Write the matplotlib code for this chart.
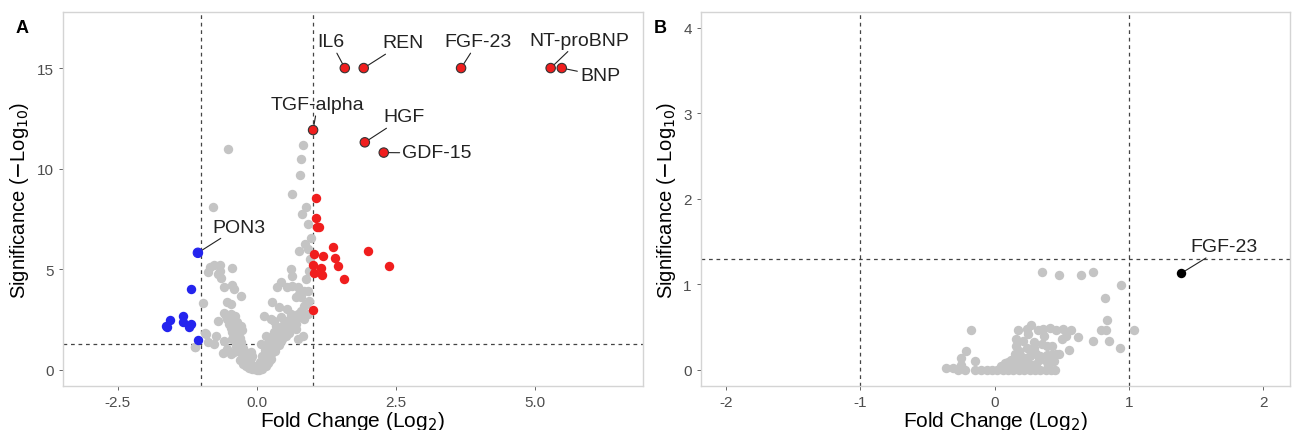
import matplotlib
matplotlib.use("Agg")
import matplotlib.pyplot as plt

plt.rcParams['font.family'] = ['Liberation Sans', 'DejaVu Sans']
plt.rcParams['axes.unicode_minus'] = False

# ---- panel A: labelled (significant) proteins ----
lab_a_names = ['IL6', 'REN', 'FGF-23', 'NT-proBNP', 'BNP', 'TGF-alpha', 'HGF', 'GDF-15', 'PON3']
lab_a_x = [1.58, 1.92, 3.67, 5.28, 5.48, 1.01, 1.94, 2.28, -1.06]
lab_a_y = [15.0, 15.0, 15.0, 15.0, 15.0, 11.92, 11.31, 10.80, 5.82]
lab_a_color = ['red'] * 8 + ['blue']
lab_a_tx = [1.33, 2.63, 3.97, 5.80, 6.17, 1.09, 2.64, 3.24, -0.33]
lab_a_ty = [16.30, 16.25, 16.30, 16.38, 14.61, 13.18, 12.57, 10.78, 7.10]

# up-regulated (red) without label
up_x = [1.07, 1.06, 1.08, 1.12, 1.36, 2.00, 1.03, 1.19, 1.41, 1.46, 2.38, 1.00, 1.15, 1.03, 1.17, 1.56, 1.00]
up_y = [8.56, 7.56, 7.11, 7.08, 6.13, 5.89, 5.77, 5.64, 5.57, 5.17, 5.17, 5.22, 5.09, 4.83, 4.73, 4.51, 2.98]

# down-regulated (blue) without label
down_x = [-1.19, -1.56, -1.62, -1.64, -1.33, -1.33, -1.18, -1.22, -1.05]
down_y = [4.01, 2.50, 2.12, 2.20, 2.70, 2.37, 2.29, 2.12, 1.48]

# non significant (grey)
ns_a_x = [-0.52, 0.83, 0.79, 0.78, 0.63, -0.78, 0.88, 0.81, 0.91, 0.97, 0.87, 0.75, 0.91,
          -0.84, -0.77, -0.66, -0.66, -0.88, -0.70, -0.65, -0.45,
          -0.60, -0.44, -0.41, -0.29, -0.53, -0.47, -0.97, -0.93, -1.11,
          -0.59, -0.56, -0.47, -0.44, -0.38, -0.41, -0.29, -0.26,
          -0.70, -0.73, -0.91, -0.88, -1.12,
          -0.77, -0.61, -0.53, -0.47, -0.44, -0.59,
          -0.35, -0.29, -0.26, -0.23, -0.17, -0.11, -0.05, 0.04, 0.10, 0.16, 0.22, 0.25, 0.31,
          0.37, 0.43, 0.49, 0.55, 0.61,
          0.61, 0.64, 0.43, 0.37, 0.55, 0.64, 0.73, 0.76, 0.85, 0.70, 0.79, 0.88, 0.94,
          0.28, 0.40, 0.55, 0.61, 0.73, 0.79, 0.88, 0.94,
          0.13, 0.25, 0.31, 0.43, 0.49, 0.61, 0.67, 0.76, 0.85, 0.91,
          0.70, 0.73, 0.55, 0.43, 0.31, 0.16, 0.07, 0.22,
          -0.11, -0.08, -0.14,
          -0.40, -0.35, -0.33, -0.30, -0.28, -0.25, -0.22, -0.20, -0.18, -0.15, -0.12, -0.08,
          -0.05, -0.02, 0.00, 0.02, 0.05, 0.08, 0.12, 0.15, 0.18, 0.20, 0.23, 0.26, 0.28, 0.30,
          0.33, 0.35, 0.38, 0.40, 0.42, 0.45, 0.47, 0.50, 0.52, 0.55, 0.58, 0.60, 0.62, 0.65,
          0.68, 0.70, 0.35, 0.30, 0.25, 0.20, 0.15, 0.10, -0.30, -0.35, -0.40, -0.50, -0.45,
          -0.38, -0.42, -0.30, -0.25, -0.10, 0.05, 0.12, 0.96, 0.92, 0.85, 0.82,
          -0.20, -0.15, -0.08, 0.00, 0.08, 0.14, 0.20, 0.26, -0.32, -0.24, 0.32, 0.40,
          0.46, 0.52, 0.58, -0.36, -0.46, -0.54]
ns_a_y = [11.0, 11.2, 10.46, 9.70, 8.74, 8.11, 8.11, 7.75, 7.26, 6.55, 6.28, 5.90, 6.02,
          5.11, 5.19, 5.19, 4.94, 4.86, 4.78, 4.58, 5.06,
          4.11, 4.24, 4.03, 3.65, 3.37, 3.28, 3.32, 1.84, 1.14,
          2.82, 2.70, 2.79, 2.54, 2.29, 2.04, 2.20, 1.96,
          2.45, 1.71, 1.79, 1.38, 1.13,
          1.29, 0.83, 1.04, 0.80, 1.54, 1.46,
          1.29, 1.04, 0.80, 0.55, 0.38, 0.21, 0.05, 0.00, 0.05, 0.21, 0.46, 0.80, 1.13,
          1.46, 1.79, 2.12, 2.29, 2.54,
          5.02, 4.69, 4.36, 4.11, 4.11, 4.19, 4.11, 3.78, 3.94, 3.61, 3.61, 4.53, 4.94,
          3.37, 3.12, 3.03, 2.79, 2.79, 2.95, 3.28, 3.45,
          2.70, 2.54, 2.45, 2.62, 2.29, 2.12, 2.37, 2.62, 2.54, 2.79,
          2.04, 1.54, 1.79, 1.46, 1.63, 1.71, 1.29, 1.38,
          0.88, 0.71, 0.63,
          1.60, 1.80, 1.50, 1.60, 1.40, 1.10, 0.90, 0.70, 0.60, 0.45, 0.35, 0.25,
          0.15, 0.08, 0.02, 0.05, 0.10, 0.20, 0.30, 0.45, 0.60, 0.75, 0.90, 1.05, 1.20, 1.35,
          1.50, 1.60, 1.70, 1.90, 2.00, 2.10, 2.20, 1.95, 2.35, 2.45, 2.20, 2.00, 2.70, 2.60,
          2.40, 2.30, 2.20, 1.90, 1.60, 1.30, 1.00, 0.70, 2.10, 2.40, 2.70, 2.30, 1.90,
          1.20, 0.90, 0.50, 0.30, 0.60, 0.40, 0.50, 5.50, 3.90, 3.20, 1.70,
          0.20, 0.12, 0.05, 0.10, 0.12, 0.25, 0.35, 0.55, 0.95, 0.50, 0.95, 1.25,
          1.55, 1.70, 1.85, 2.00, 2.10, 2.55]

# ---- panel B ----
lab_b_name = 'FGF-23'
lab_b_x, lab_b_y = 1.39, 1.13
lab_b_tx, lab_b_ty = 1.71, 1.44

ns_b_x = [0.35, 0.48, 0.64, 0.73, 0.94, 0.82, 0.84, 0.79, 0.83, 1.04, 0.73, 0.85, 0.93,
          -0.18, -0.21, -0.25, -0.25, -0.15,
          0.17, 0.24, 0.27, 0.32, 0.36, 0.41, 0.46, 0.51, 0.57, 0.62, 0.55, 0.48, 0.43, 0.39,
          0.16, 0.21, 0.29, 0.16, 0.24, 0.29, 0.15, 0.19, 0.26, 0.34, 0.39, 0.42, 0.46,
          0.16, 0.24, 0.31, 0.39, 0.21, 0.29, 0.14, 0.10,
          -0.36, -0.31, -0.27, -0.22, -0.15, -0.10, -0.06, -0.02, 0.02, 0.06, 0.10, 0.14,
          0.18, 0.22, 0.26, 0.30, 0.34, 0.38, 0.42, 0.45,
          0.05, 0.08, 0.12, 0.20, 0.23, 0.28, 0.33, 0.37, 0.25, 0.18, 0.30, 0.35,
          0.19, 0.22, 0.27, 0.31, 0.44, 0.50, 0.53, 0.40]
ns_b_y = [1.14, 1.11, 1.11, 1.14, 0.99, 0.84, 0.58, 0.47, 0.47, 0.47, 0.34, 0.34, 0.25,
          0.47, 0.22, 0.14, 0.06, 0.10,
          0.47, 0.48, 0.53, 0.47, 0.48, 0.49, 0.47, 0.48, 0.46, 0.38, 0.23, 0.19, 0.28, 0.28,
          0.36, 0.34, 0.33, 0.28, 0.25, 0.25, 0.18, 0.17, 0.16, 0.16, 0.17, 0.17, 0.18,
          0.11, 0.09, 0.07, 0.09, 0.03, 0.03, 0.07, 0.09,
          0.02, 0.02, 0.0, 0.0, 0.0, 0.0, 0.0, 0.0, 0.0, 0.0, 0.0, 0.0,
          0.0, 0.0, 0.0, 0.0, 0.0, 0.0, 0.0, 0.0,
          0.05, 0.08, 0.12, 0.10, 0.14, 0.06, 0.12, 0.40, 0.42, 0.22, 0.20, 0.30,
          0.05, 0.12, 0.20, 0.18, 0.10, 0.36, 0.40, 0.04]

RED = '#f01e1e'
BLUE = '#2424ee'
GREY = '#c4c4c4'
TICK = '#4d4d4d'
MS = 46


def style_axes(ax):
    for s in ax.spines.values():
        s.set_color('#d4d4d4')
        s.set_linewidth(1.0)
    ax.tick_params(colors=TICK, labelcolor=TICK, labelsize=11, length=3, width=0.6)
    ax.set_xlabel('Fold Change (Log$_2$)', fontsize=15, labelpad=0)
    ax.set_ylabel('Significance ($-$Log$_{10}$)', fontsize=14.5, labelpad=4)


fig = plt.figure(figsize=(12.93, 4.31), dpi=100)
ax_a = fig.add_axes([0.0485, 0.102, 0.4488, 0.8685])
ax_b = fig.add_axes([0.5419, 0.102, 0.4558, 0.8685])

# panel A
ax_a.scatter(ns_a_x, ns_a_y, s=MS, color=GREY, linewidths=0, zorder=2)
ax_a.scatter(up_x, up_y, s=MS, color=RED, linewidths=0, zorder=3)
ax_a.scatter(down_x, down_y, s=MS, color=BLUE, linewidths=0, zorder=3)
ax_a.scatter(lab_a_x, lab_a_y, s=MS, c=[RED if c == 'red' else BLUE for c in lab_a_color],
             edgecolors=['#333333' if c == 'red' else BLUE for c in lab_a_color],
             linewidths=0.8, zorder=4)
for v in (-1, 1):
    ax_a.axvline(v, color='#444444', lw=0.9, ls=(0, (3, 3)), zorder=1)
ax_a.axhline(1.301, color='#444444', lw=0.9, ls=(0, (3, 3)), zorder=1)
for name, x, y, tx, ty in zip(lab_a_names, lab_a_x, lab_a_y, lab_a_tx, lab_a_ty):
    ax_a.annotate(name, xy=(x, y), xytext=(tx, ty), ha='center', va='center',
                  fontsize=14, color='#222222',
                  arrowprops=dict(arrowstyle='-', color='#222222', lw=0.8,
                                  shrinkA=0, shrinkB=3))
ax_a.set_xlim(-3.49, 6.94)
ax_a.set_ylim(-0.8, 17.8)
ax_a.set_xticks([-2.5, 0.0, 2.5, 5.0])
ax_a.set_xticklabels(['-2.5', '0.0', '2.5', '5.0'])
ax_a.set_yticks([0, 5, 10, 15])
style_axes(ax_a)

# panel B
ax_b.scatter(ns_b_x, ns_b_y, s=MS, color=GREY, linewidths=0, zorder=2)
ax_b.scatter([lab_b_x], [lab_b_y], s=MS, color='black', linewidths=0, zorder=4)
for v in (-1, 1):
    ax_b.axvline(v, color='#444444', lw=0.9, ls=(0, (3, 3)), zorder=1)
ax_b.axhline(1.301, color='#444444', lw=0.9, ls=(0, (3, 3)), zorder=1)
ax_b.annotate(lab_b_name, xy=(lab_b_x, lab_b_y), xytext=(lab_b_tx, lab_b_ty),
              ha='center', va='center', fontsize=14, color='#222222',
              arrowprops=dict(arrowstyle='-', color='#222222', lw=0.8,
                              shrinkA=0, shrinkB=3))
ax_b.set_xlim(-2.19, 2.2)
ax_b.set_ylim(-0.19, 4.19)
ax_b.set_xticks([-2, -1, 0, 1, 2])
ax_b.set_yticks([0, 1, 2, 3, 4])
style_axes(ax_b)

fig.text(0.017, 0.935, 'A', fontsize=13, fontweight='bold', ha='center', va='center')
fig.text(0.5104, 0.935, 'B', fontsize=13, fontweight='bold', ha='center', va='center')

fig.savefig('out.png', dpi=100)
